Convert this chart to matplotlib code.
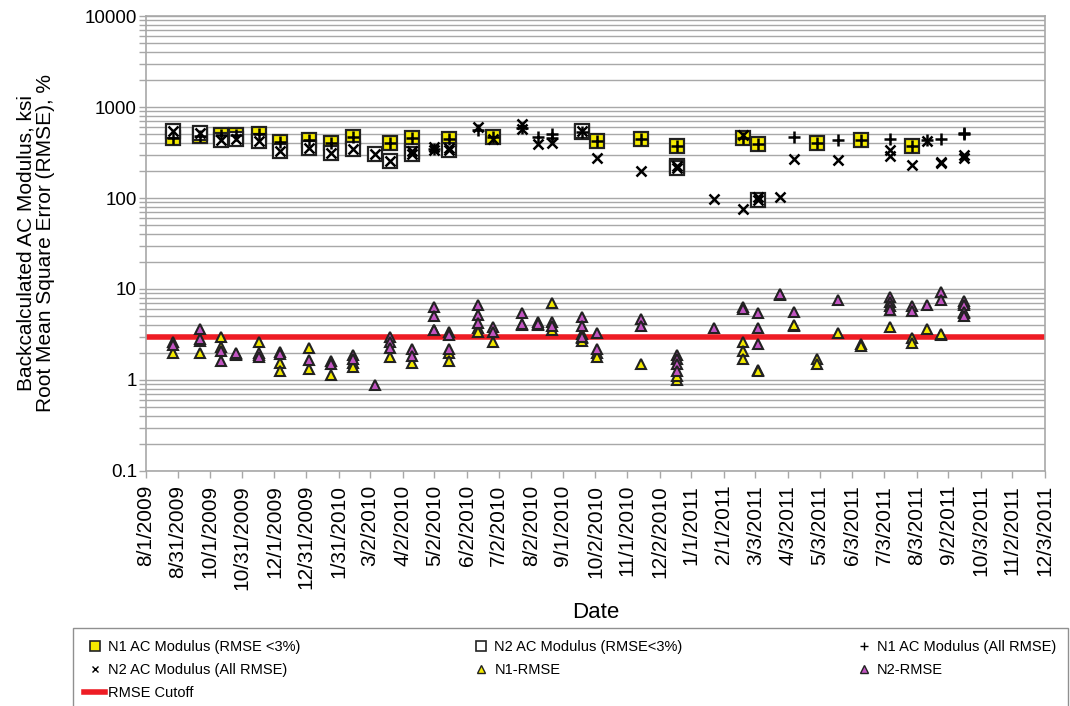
#!/usr/bin/env python3
"""Backcalculated AC modulus and RMSE over time (log scale scatter)."""

import matplotlib

matplotlib.use("Agg")

import matplotlib.pyplot as plt
import numpy as np
import pandas as pd
from matplotlib.lines import Line2D
from matplotlib.ticker import FixedLocator, LogLocator, NullFormatter

# ---- data --------------------------------------------------------------
xtick_labels = [
    "8/1/2009", "8/31/2009", "10/1/2009", "10/31/2009", "12/1/2009", "12/31/2009",
    "1/31/2010", "3/2/2010", "4/2/2010", "5/2/2010", "6/2/2010", "7/2/2010",
    "8/2/2010", "9/1/2010", "10/2/2010", "11/1/2010", "12/2/2010", "1/1/2011",
    "2/1/2011", "3/3/2011", "4/3/2011", "5/3/2011", "6/3/2011", "7/3/2011",
    "8/3/2011", "9/2/2011", "10/3/2011", "11/2/2011", "12/3/2011",
]
ytick_values = [0.1, 1, 10, 100, 1000, 10000]
ytick_labels = ["0.1", "1", "10", "100", "1000", "10000"]

# N1 AC modulus, RMSE < 3% (yellow squares)
n1_ok_dates = [
    "2009-08-27", "2009-09-21", "2009-10-11", "2009-10-26", "2009-11-16", "2009-12-06",
    "2010-01-03", "2010-01-24", "2010-02-14", "2010-03-21", "2010-04-11", "2010-05-16",
    "2010-06-27", "2010-09-19", "2010-10-03", "2010-11-14", "2010-12-18", "2011-02-19",
    "2011-03-05", "2011-04-30", "2011-06-11", "2011-07-30",
]
n1_ok_vals = [
    460, 480, 490, 490, 510, 415,
    435, 400, 465, 405, 455, 445,
    470, 530, 425, 440, 370, 455,
    390, 400, 430, 375,
]

# N2 AC modulus, RMSE < 3% (white squares)
n2_ok_dates = [
    "2009-08-27", "2009-09-21", "2009-10-11", "2009-10-26", "2009-11-16", "2009-12-06",
    "2010-01-03", "2010-01-24", "2010-02-14", "2010-03-07", "2010-03-21", "2010-04-11",
    "2010-04-11", "2010-05-16", "2010-09-19", "2010-12-18", "2010-12-18", "2011-03-05",
]
n2_ok_vals = [
    540, 520, 430, 445, 425, 330,
    355, 315, 350, 305, 258, 330,
    305, 340, 540, 222, 215, 95,
]

# N1 AC modulus, all RMSE (+)
n1_all_dates = n1_ok_dates + [
    "2010-05-02", "2010-06-12", "2010-07-24", "2010-08-08", "2010-08-22", "2010-08-22",
    "2011-04-09", "2011-05-20", "2011-07-09", "2011-08-13", "2011-08-26", "2011-09-17",
    "2011-09-17",
]
n1_all_vals = n1_ok_vals + [
    350, 560, 590, 465, 510, 460,
    465, 430, 445, 430, 445, 515,
    500,
]

# N2 AC modulus, all RMSE (x)
n2_all_dates = n2_ok_dates + [
    "2010-05-02", "2010-05-02", "2010-05-16", "2010-06-12", "2010-06-27", "2010-07-24",
    "2010-07-24", "2010-08-08", "2010-08-22", "2010-10-03", "2010-11-14", "2011-01-23",
    "2011-02-19", "2011-02-19", "2011-03-05", "2011-03-26", "2011-04-09", "2011-05-20",
    "2011-07-09", "2011-07-09", "2011-07-30", "2011-08-13", "2011-08-26", "2011-08-26",
    "2011-09-17", "2011-09-17",
]
n2_all_vals = n2_ok_vals + [
    340, 360, 355, 610, 450, 650,
    580, 395, 400, 275, 200, 98,
    495, 75, 102, 102, 265, 262,
    340, 290, 228, 420, 250, 240,
    295, 275,
]

# N1 RMSE (yellow triangles)
n1_rmse_dates = [
    "2009-08-27", "2009-09-21", "2009-09-21", "2009-10-11", "2009-10-11", "2009-10-26",
    "2009-11-16", "2009-11-16", "2009-12-06", "2009-12-06", "2010-01-03", "2010-01-03",
    "2010-01-24", "2010-02-14", "2010-02-14", "2010-03-21", "2010-04-11", "2010-05-02",
    "2010-05-16", "2010-05-16", "2010-06-12", "2010-06-12", "2010-06-27", "2010-07-24",
    "2010-08-08", "2010-08-22", "2010-08-22", "2010-09-19", "2010-09-19", "2010-09-19",
    "2010-10-03", "2010-10-03", "2010-11-14", "2010-12-18", "2010-12-18", "2011-02-19",
    "2011-02-19", "2011-02-19", "2011-03-05", "2011-03-05", "2011-04-09", "2011-04-09",
    "2011-04-30", "2011-04-30", "2011-05-20", "2011-06-11", "2011-06-11", "2011-07-09",
    "2011-07-30", "2011-07-30", "2011-08-13", "2011-08-26", "2011-08-26", "2011-09-17",
    "2011-09-17",
]
n1_rmse_vals = [
    2.0, 2.7, 2.0, 2.94, 2.3, 1.95,
    2.64, 1.9, 1.52, 1.25, 2.26, 1.31,
    1.13, 1.55, 1.4, 1.8, 1.55, 3.5,
    2.0, 1.6, 3.7, 3.4, 2.64, 4.0,
    4.0, 7.0, 3.5, 3.2, 2.9, 2.65,
    2.0, 1.8, 1.5, 1.0, 1.1, 2.6,
    2.1, 1.7, 1.3, 1.25, 3.9, 4.0,
    1.7, 1.5, 3.3, 2.5, 2.35, 3.85,
    2.9, 2.55, 3.6, 3.1, 3.2, 5.5,
    7.0,
]

# N2 RMSE (magenta triangles)
n2_rmse_dates = [
    "2009-08-27", "2009-08-27", "2009-09-21", "2009-09-21", "2009-10-11", "2009-10-11",
    "2009-10-26", "2009-10-26", "2009-11-16", "2009-11-16", "2009-12-06", "2009-12-06",
    "2010-01-03", "2010-01-24", "2010-01-24", "2010-02-14", "2010-02-14", "2010-03-07",
    "2010-03-21", "2010-03-21", "2010-03-21", "2010-04-11", "2010-04-11", "2010-05-02",
    "2010-05-02", "2010-05-02", "2010-05-16", "2010-05-16", "2010-05-16", "2010-06-12",
    "2010-06-12", "2010-06-12", "2010-06-27", "2010-06-27", "2010-07-24", "2010-07-24",
    "2010-08-08", "2010-08-08", "2010-08-22", "2010-08-22", "2010-09-19", "2010-09-19",
    "2010-09-19", "2010-10-03", "2010-10-03", "2010-11-14", "2010-11-14", "2010-12-18",
    "2010-12-18", "2010-12-18", "2010-12-18", "2011-01-23", "2011-02-19", "2011-02-19",
    "2011-03-05", "2011-03-05", "2011-03-05", "2011-03-26", "2011-03-26", "2011-04-09",
    "2011-05-20", "2011-07-09", "2011-07-09", "2011-07-09", "2011-07-09", "2011-07-30",
    "2011-07-30", "2011-08-13", "2011-08-26", "2011-08-26", "2011-09-17", "2011-09-17",
    "2011-09-17", "2011-09-17",
]
n2_rmse_vals = [
    2.6, 2.4, 3.6, 2.8, 2.1, 1.6,
    1.9, 2.0, 2.0, 1.8, 2.05, 1.95,
    1.66, 1.6, 1.5, 1.9, 1.7, 0.88,
    3.0, 2.6, 2.25, 2.2, 1.85, 6.4,
    5.0, 3.5, 3.4, 3.1, 2.2, 6.7,
    5.2, 4.2, 3.85, 3.4, 5.4, 4.1,
    4.3, 4.1, 4.3, 3.9, 4.9, 3.9,
    3.0, 3.3, 2.2, 4.7, 3.9, 1.9,
    1.7, 1.5, 1.25, 3.7, 6.3, 6.0,
    5.5, 3.7, 2.5, 8.6, 8.9, 5.6,
    7.6, 8.1, 7.2, 6.5, 5.9, 6.5,
    5.7, 6.7, 9.35, 7.6, 7.3, 6.6,
    5.6, 5.1,
]

rmse_cutoff = 3.0

plt.rcParams["font.family"] = ["Liberation Sans", "DejaVu Sans"]


def _dates(values):
    return pd.to_datetime(values).values


# ---- plot ---------------------------------------------------------------
fig = plt.figure(figsize=(10.7, 7.06), dpi=100)
ax = fig.add_axes([0.1364, 0.3329, 0.8402, 0.6444])

grid_col = "#A8A8A8"
yellow = "#F4EA00"
magenta = "#C255C2"
edge = "#222222"

ax.axhline(rmse_cutoff, color="#EE1C24", linewidth=4, zorder=2)

ax.plot(_dates(n1_ok_dates), n1_ok_vals, linestyle="none", marker="s", markersize=9.5,
        markerfacecolor=yellow, markeredgecolor=edge, markeredgewidth=1.6, zorder=3)
ax.plot(_dates(n2_ok_dates), n2_ok_vals, linestyle="none", marker="s", markersize=9.5,
        markerfacecolor="white", markeredgecolor=edge, markeredgewidth=1.6, zorder=4)
ax.plot(_dates(n1_all_dates), n1_all_vals, linestyle="none", marker="+", markersize=8,
        markeredgecolor="black", markeredgewidth=1.8, zorder=5)
ax.plot(_dates(n2_all_dates), n2_all_vals, linestyle="none", marker="x", markersize=7,
        markeredgecolor="black", markeredgewidth=1.8, zorder=6)
ax.plot(_dates(n1_rmse_dates), n1_rmse_vals, linestyle="none", marker="^", markersize=7.5,
        markerfacecolor=yellow, markeredgecolor=edge, markeredgewidth=1.5, zorder=7)
ax.plot(_dates(n2_rmse_dates), n2_rmse_vals, linestyle="none", marker="^", markersize=7.5,
        markerfacecolor=magenta, markeredgecolor=edge, markeredgewidth=1.5, zorder=8)

# y axis (log)
ax.set_yscale("log")
ax.set_ylim(0.1, 10000)
ax.yaxis.set_major_locator(FixedLocator(ytick_values))
ax.set_yticklabels(ytick_labels, fontsize=13.5)
ax.yaxis.set_minor_locator(LogLocator(base=10, subs=np.arange(2, 10)))
ax.yaxis.set_minor_formatter(NullFormatter())
ax.yaxis.grid(True, which="both", color=grid_col, linewidth=1.0)
ax.set_axisbelow(True)

# x axis (dates)
tick_pos = pd.to_datetime(xtick_labels, format="%m/%d/%Y").values
ax.set_xlim(tick_pos[0], tick_pos[-1])
ax.set_xticks(tick_pos)
ax.set_xticklabels(xtick_labels, rotation=90, fontsize=15)
ax.xaxis.set_minor_locator(FixedLocator([]))

ax.tick_params(axis="both", which="both", direction="out", length=5, width=1, color=grid_col)
ax.tick_params(axis="y", which="major", pad=1.5)
ax.tick_params(axis="x", which="major", pad=5)
for spine in ax.spines.values():
    spine.set_color(grid_col)
    spine.set_linewidth(1.2)

ax.set_ylabel("Backcalculated AC Modulus, ksi\nRoot Mean Square Error (RMSE), %", fontsize=15,
              linespacing=1.05)
ax.yaxis.set_label_coords(-0.101, 0.5)
ax.set_xlabel("Date", fontsize=16)
ax.xaxis.set_label_coords(0.5, -0.288)

# legend (column-major order so it reads row by row like the original)
h_n1sq = Line2D([], [], linestyle="none", marker="s", markersize=6.5, markerfacecolor=yellow,
                markeredgecolor=edge, markeredgewidth=1.2)
h_n2sq = Line2D([], [], linestyle="none", marker="s", markersize=6.5, markerfacecolor="white",
                markeredgecolor=edge, markeredgewidth=1.2)
h_n1p = Line2D([], [], linestyle="none", marker="+", markersize=6, markeredgecolor="black",
               markeredgewidth=1.0)
h_n2x = Line2D([], [], linestyle="none", marker="x", markersize=5, markeredgecolor="black",
               markeredgewidth=1.0)
h_n1t = Line2D([], [], linestyle="none", marker="^", markersize=5.5, markerfacecolor=yellow,
               markeredgecolor=edge, markeredgewidth=1.0)
h_n2t = Line2D([], [], linestyle="none", marker="^", markersize=5.5, markerfacecolor=magenta,
               markeredgecolor=edge, markeredgewidth=1.0)
h_cut = Line2D([], [], color="#EE1C24", linewidth=4)

handles = [h_n1sq, h_n2x, h_cut, h_n2sq, h_n1t, h_n1p, h_n2t]
labels = [
    "N1 AC Modulus (RMSE <3%)", "N2 AC Modulus (All RMSE)", "RMSE Cutoff",
    "N2 AC Modulus (RMSE<3%)", "N1-RMSE",
    "N1 AC Modulus (All RMSE)", "N2-RMSE",
]
leg = fig.legend(handles, labels, loc="upper left", bbox_to_anchor=(0.068, 0.0, 0.93, 0.1105),
                 mode="expand", ncol=3, frameon=True, fancybox=False, framealpha=1,
                 edgecolor="#909090", handlelength=1.4, handletextpad=0.2, labelspacing=0.62,
                 borderpad=0.8, borderaxespad=0, prop={"size": 10.5})
leg.get_frame().set_linewidth(1.0)

fig.savefig("out.png", dpi=100)
